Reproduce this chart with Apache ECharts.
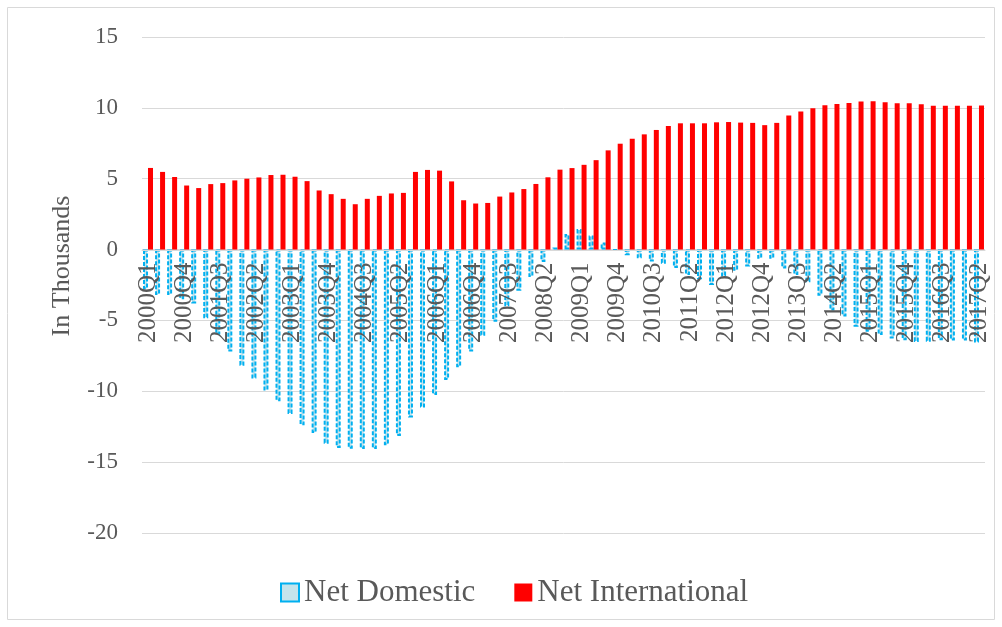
<!DOCTYPE html>
<html>
<head>
<meta charset="utf-8">
<script src="https://cdn.jsdelivr.net/npm/echarts@6/dist/echarts.min.js"></script>
<style>
    html, body { margin: 0; padding: 0; background: #fff; }
    #chart { width: 1002px; height: 627px; }
</style>
</head>
<body>
<div id="chart"></div>
<script>
// quarters 2000Q1 .. 2017Q2
var quarters = [
    '2000Q1', '2000Q2', '2000Q3', '2000Q4', '2001Q1', '2001Q2', '2001Q3', '2001Q4',
    '2002Q1', '2002Q2', '2002Q3', '2002Q4', '2003Q1', '2003Q2', '2003Q3', '2003Q4',
    '2004Q1', '2004Q2', '2004Q3', '2004Q4', '2005Q1', '2005Q2', '2005Q3', '2005Q4',
    '2006Q1', '2006Q2', '2006Q3', '2006Q4', '2007Q1', '2007Q2', '2007Q3', '2007Q4',
    '2008Q1', '2008Q2', '2008Q3', '2008Q4', '2009Q1', '2009Q2', '2009Q3', '2009Q4',
    '2010Q1', '2010Q2', '2010Q3', '2010Q4', '2011Q1', '2011Q2', '2011Q3', '2011Q4',
    '2012Q1', '2012Q2', '2012Q3', '2012Q4', '2013Q1', '2013Q2', '2013Q3', '2013Q4',
    '2014Q1', '2014Q2', '2014Q3', '2014Q4', '2015Q1', '2015Q2', '2015Q3', '2015Q4',
    '2016Q1', '2016Q2', '2016Q3', '2016Q4', '2017Q1', '2017Q2'
];

// in thousands
var netDomestic = [
    -2.8, -3.2, -3.2, -3.5, -3.8, -4.85, -6.0, -7.2,
    -8.2, -9.1, -9.95, -10.7, -11.6, -12.4, -12.95, -13.7,
    -14.0, -14.05, -14.07, -14.07, -13.8, -13.15, -11.85, -11.15,
    -10.26, -9.2, -8.3, -7.2, -6.08, -5.1, -4.0, -2.9,
    -1.93, -0.87, 0.15, 1.1, 1.45, 1.0, 0.5, -0.05,
    -0.4, -0.62, -0.85, -1.0, -1.3, -1.8, -2.1, -2.5,
    -1.9, -1.5, -1.2, -0.65, -0.65, -1.33, -1.8, -2.3,
    -3.25, -4.3, -4.72, -5.45, -5.8, -6.03, -6.28, -6.4,
    -6.52, -6.5, -6.4, -6.42, -6.42, -6.55
];

var netInternational = [
    5.76, 5.48, 5.12, 4.52, 4.34, 4.62, 4.69, 4.88,
    5.0, 5.09, 5.26, 5.28, 5.14, 4.83, 4.17, 3.91,
    3.58, 3.2, 3.58, 3.79, 3.96, 4.0, 5.48, 5.62,
    5.57, 4.81, 3.48, 3.25, 3.29, 3.74, 4.03, 4.27,
    4.63, 5.1, 5.64, 5.75, 5.98, 6.31, 7.0, 7.47,
    7.82, 8.13, 8.44, 8.72, 8.91, 8.91, 8.91, 8.98,
    9.0, 8.96, 8.94, 8.78, 8.94, 9.46, 9.74, 9.98,
    10.19, 10.28, 10.35, 10.44, 10.47, 10.4, 10.33, 10.33,
    10.26, 10.14, 10.14, 10.14, 10.14, 10.16
];

var yMin = -20;
var yMax = 15;
var yStep = 5;

var fontSerif = "'Liberation Serif', 'Times New Roman', serif";
var textGray = '#595959';
var gridGray = '#d9d9d9';

var myChart = echarts.init(document.getElementById('chart'));

var option = {
    animation: false,
    grid: {
        left: 142,
        right: 17,
        top: 37,
        bottom: 94
    },
    legend: {
        left: 280,
        top: 577,
        padding: 0,
        icon: 'rect',
        itemWidth: 18,
        itemHeight: 18,
        itemGap: 39,
        textStyle: {
            fontFamily: fontSerif,
            fontSize: 31,
            color: textGray
        },
        data: ['Net Domestic', 'Net International']
    },
    xAxis: {
        type: 'category',
        data: quarters,
        z: 5,
        offset: 0,
        axisLine: {
            onZero: false,
            lineStyle: { color: gridGray, width: 1 }
        },
        axisTick: { show: false },
        axisLabel: {
            interval: 2,
            rotate: 90,
            margin: 12,
            fontFamily: fontSerif,
            fontSize: 25,
            color: textGray
        }
    },
    yAxis: {
        type: 'value',
        min: yMin,
        max: yMax,
        interval: yStep,
        axisLine: { show: false },
        axisTick: { show: false },
        splitLine: {
            lineStyle: { color: gridGray, width: 1 }
        },
        axisLabel: {
            margin: 24,
            fontFamily: fontSerif,
            fontSize: 23,
            color: textGray
        }
    },
    series: [
        {
            name: 'Net Domestic',
            type: 'bar',
            data: netDomestic,
            barWidth: 5,
            barGap: '0%',
            itemStyle: {
                color: '#c4e4ec',
                borderColor: '#00b0f0',
                borderWidth: 2,
                borderType: [4, 2]
            }
        },
        {
            name: 'Net International',
            type: 'bar',
            data: netInternational,
            barWidth: 5,
            itemStyle: {
                color: '#ff0000'
            }
        }
    ],
    graphic: [
        {
            type: 'rect',
            silent: true,
            z: -1,
            shape: { x: 7.5, y: 7.5, width: 987, height: 612 },
            style: { fill: 'none', stroke: gridGray, lineWidth: 1 }
        },
        {
            type: 'text',
            x: 62,
            y: 266,
            rotation: Math.PI / 2,
            style: {
                text: 'In Thousands',
                fontFamily: fontSerif,
                fontSize: 26,
                fill: textGray,
                align: 'center',
                verticalAlign: 'middle'
            }
        }
    ]
};

myChart.setOption(option);

// move the category axis (line + labels) up to the zero line
var zeroY = myChart.convertToPixel({ yAxisIndex: 0 }, 0);
var baseY = myChart.convertToPixel({ yAxisIndex: 0 }, yMin);
myChart.setOption({ xAxis: { offset: zeroY - baseY } });
</script>
</body>
</html>
